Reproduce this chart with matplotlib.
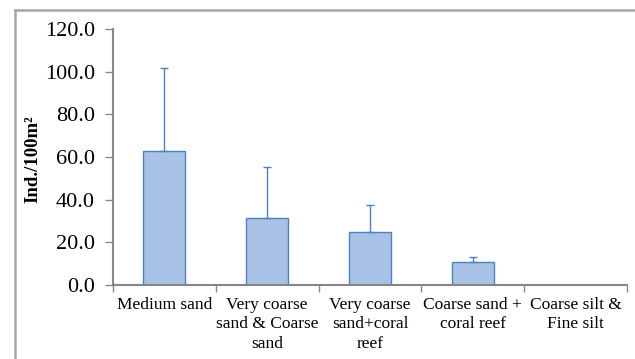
import matplotlib
matplotlib.use("Agg")
import matplotlib.pyplot as plt
from matplotlib.lines import Line2D
import numpy as np

categories = ["Medium sand", "Very coarse\nsand & Coarse\nsand", "Very coarse\nsand+coral\nreef",
              "Coarse sand +\ncoral reef", "Coarse silt &\nFine silt"]
values = [62.6, 31.2, 24.8, 10.6, 0.0]
errors = [39.1, 24.0, 12.8, 2.5, 0.0]
yticks = [0, 20, 40, 60, 80, 100, 120]

plt.rcParams['font.family'] = ['Liberation Serif', 'DejaVu Serif']

fig = plt.figure(figsize=(6.35, 3.59), dpi=100)
ax = fig.add_axes([113/635, 1-285/359, (627-113)/635, (285-29)/359])

x = np.arange(len(categories))
ax.bar(x, values, width=0.41, color="#a7c2e5", edgecolor="#4f81bd", linewidth=1.0, zorder=2)
ax.errorbar(x[:4], values[:4], yerr=[np.zeros(4), errors[:4]], fmt="none",
            ecolor="#4f81bd", elinewidth=1.0, capsize=3, capthick=1.0, zorder=3)

ax.set_xlim(-0.5, len(categories) - 0.5)
ax.set_ylim(0, 120)
ax.set_yticks(yticks)
ax.set_yticklabels([f"{v:.1f}" for v in yticks], fontsize=16)
ax.set_xticks(np.arange(len(categories) + 1) - 0.5, minor=False)
ax.set_xticklabels([])
ax.set_xticks(x, minor=True)
ax.set_xticklabels(categories, minor=True, fontsize=12.5, linespacing=1.3)
ax.tick_params(axis="x", which="minor", length=0, pad=8.5)
ax.tick_params(axis="x", which="major", length=5, color="#868686", width=1)
ax.tick_params(axis="y", length=6, color="#868686", width=1, pad=7)

for s in ["top", "right"]:
    ax.spines[s].set_visible(False)
for s in ["left", "bottom"]:
    ax.spines[s].set_color("#868686")
    ax.spines[s].set_linewidth(1.5)

ax.set_ylabel("Ind./100m²", fontsize=13.5, fontweight="bold")
ax.yaxis.set_label_coords(-0.140, 0.49)

# outer chart frame
fig.add_artist(Line2D([15/635, 1.0], [1-9.5/359, 1-9.5/359], color="#a6a6a6", linewidth=1.8,
                      transform=fig.transFigure))
fig.add_artist(Line2D([15/635, 15/635], [0.0, 1-9.5/359], color="#a6a6a6", linewidth=1.8,
                      transform=fig.transFigure))

fig.savefig("out.png", dpi=100)
